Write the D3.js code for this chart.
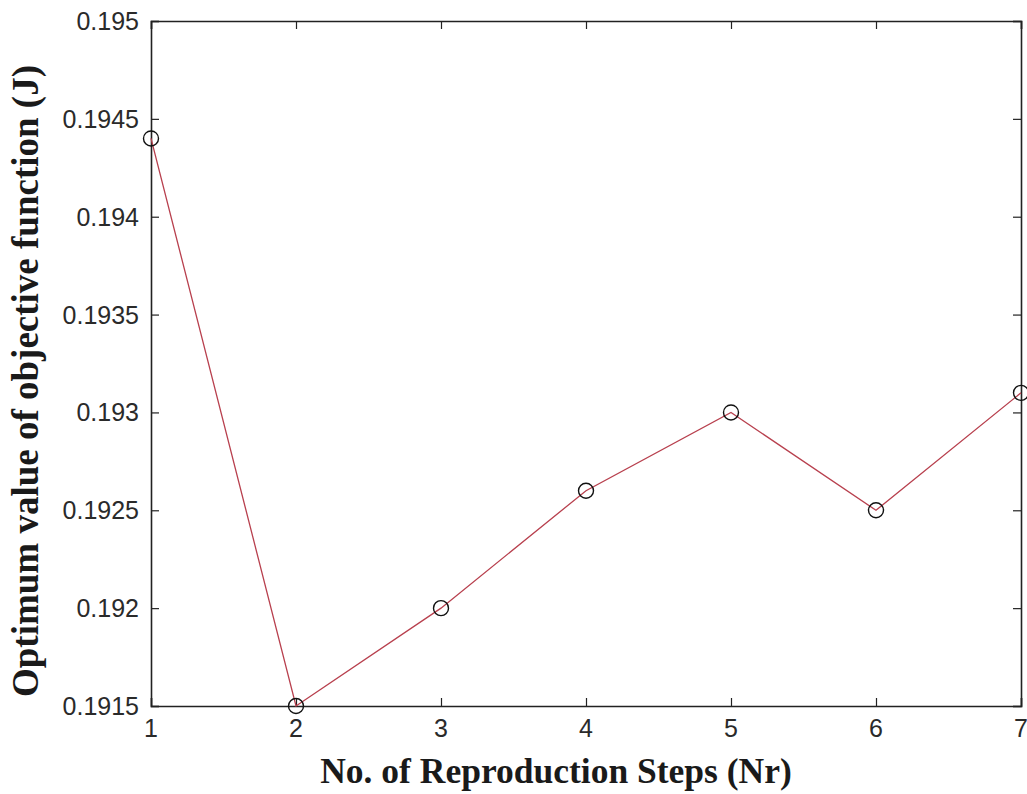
<!DOCTYPE html>
<html>
<head>
<meta charset="utf-8">
<script src="https://cdn.jsdelivr.net/npm/d3@7"></script>
<style>
  html, body { margin: 0; padding: 0; background: #fff; }
  svg { display: block; }
</style>
</head>
<body>
<svg id="chart" width="1027" height="794"></svg>
<script>
// Reproduction steps and the optimum objective value reached at each
const steps = [1, 2, 3, 4, 5, 6, 7];
const objectiveJ = [0.1944, 0.1915, 0.1920, 0.1926, 0.1930, 0.1925, 0.1931];
const xTicks = [1, 2, 3, 4, 5, 6, 7];
const yTicks = [0.1915, 0.192, 0.1925, 0.193, 0.1935, 0.194, 0.1945, 0.195];
const yTickLabels = ["0.1915", "0.192", "0.1925", "0.193", "0.1935", "0.194", "0.1945", "0.195"];

const svg = d3.select("#chart");
const plot = { left: 151, right: 1021, top: 21, bottom: 706 };

const x = d3.scaleLinear().domain([1, 7]).range([plot.left, plot.right]);
const y = d3.scaleLinear().domain([0.1915, 0.195]).range([plot.bottom, plot.top]);

const tickLen = 8;
const axisColor = "#222";
const labelFont = "Arial, 'Liberation Sans', sans-serif";
const titleFont = "'Liberation Serif', 'Times New Roman', serif";

// Axes: ticks point inward, mirrored on the top and right edges
const gBottom = svg.append("g").attr("transform", `translate(0,${plot.bottom})`)
  .call(d3.axisTop(x).tickValues(xTicks).tickSize(tickLen).tickFormat(""));
const gTop = svg.append("g").attr("transform", `translate(0,${plot.top})`)
  .call(d3.axisBottom(x).tickValues(xTicks).tickSize(tickLen).tickFormat(""));
const gLeft = svg.append("g").attr("transform", `translate(${plot.left},0)`)
  .call(d3.axisRight(y).tickValues(yTicks).tickSize(tickLen).tickFormat(""));
const gRight = svg.append("g").attr("transform", `translate(${plot.right},0)`)
  .call(d3.axisLeft(y).tickValues(yTicks).tickSize(tickLen).tickFormat(""));

[gBottom, gTop, gLeft, gRight].forEach(g => {
  g.select(".domain").attr("stroke", axisColor).attr("stroke-width", 1.6);
  g.selectAll(".tick line").attr("stroke", axisColor).attr("stroke-width", 1.2);
});

// Tick labels
svg.append("g").selectAll("text").data(xTicks).join("text")
  .attr("x", d => x(d)).attr("y", plot.bottom + 31)
  .attr("text-anchor", "middle")
  .attr("font-family", labelFont).attr("font-size", 25).attr("fill", "#2a2a2a")
  .text(d => d);

svg.append("g").selectAll("text").data(yTicks).join("text")
  .attr("x", plot.left - 12).attr("y", d => y(d) + 9)
  .attr("text-anchor", "end")
  .attr("font-family", labelFont).attr("font-size", 25).attr("fill", "#2a2a2a")
  .text((d, i) => yTickLabels[i]);

// Axis titles
svg.append("text")
  .attr("x", 556).attr("y", 783)
  .attr("text-anchor", "middle")
  .attr("font-family", titleFont)
  .attr("font-weight", "bold").attr("font-size", 35.5).attr("fill", "#1a1a1a")
  .text("No. of Reproduction Steps (Nr)");

svg.append("text")
  .attr("transform", "translate(38,381) rotate(-90)")
  .attr("text-anchor", "middle")
  .attr("font-family", titleFont)
  .attr("font-weight", "bold").attr("font-size", 37).attr("fill", "#1a1a1a")
  .text("Optimum value of objective function (J)");

// Data line and circle markers
const pts = steps.map((s, i) => [s, objectiveJ[i]]);
svg.append("path")
  .datum(pts)
  .attr("fill", "none")
  .attr("stroke", "#b8404e")
  .attr("stroke-width", 1.3)
  .attr("d", d3.line().x(d => x(d[0])).y(d => y(d[1])));

svg.append("g").selectAll("circle").data(pts).join("circle")
  .attr("cx", d => x(d[0])).attr("cy", d => y(d[1]))
  .attr("r", 7.5)
  .attr("fill", "none")
  .attr("stroke", "#111")
  .attr("stroke-width", 1.4);
</script>
</body>
</html>
